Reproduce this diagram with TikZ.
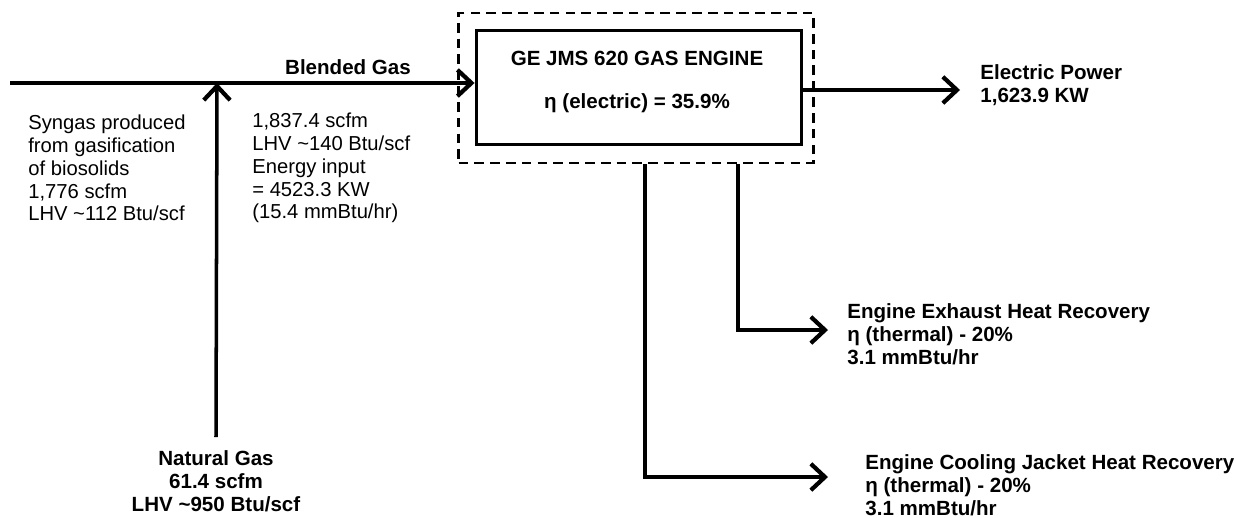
\documentclass[tikz,border=0pt]{standalone}
\usepackage{fontspec}
\setmainfont{Liberation Sans}
\usetikzlibrary{arrows.meta,positioning}
\tikzset{
  flow/.style={line width=2pt, -{Straight Barb[length=8pt,width=15pt,line width=2.4pt]}},
  info/.style={inner sep=0pt, align=left, font=\fontsize{11.5}{13}\selectfont},
  infob/.style={info, font=\fontsize{11.7}{13}\selectfont\bfseries},
}
\begin{document}
\begin{tikzpicture}[x=0.02cm, y=-0.02cm]
  \useasboundingbox (0,0) rectangle (1236,517);
  \node[draw, dash pattern=on 5.5pt off 3.5pt, line width=1.5pt, minimum width=7.1cm, minimum height=3cm] (envelope) at (636,88) {};
  \node[draw, line width=1.7pt, minimum width=6.52cm, minimum height=2.3cm] (engine) at (639,87.5) {};
  \node[infob, align=center] (engtitle) at (637,58) {GE JMS 620 GAS ENGINE};
  \node[infob, align=center] (engeff) at (637,103) {η (electric) = 35.9\%};
  \coordinate (syn) at (10,83);
  \coordinate (mix) at (217,83);
  \node[infob] (blend) at (348,67) {Blended Gas};
  \node[info, anchor=west] (syngas) at (28,168) {Syngas produced\\from gasification\\of biosolids\\1,776 scfm\\LHV \textasciitilde112 Btu/scf};
  \node[info, anchor=west] (blendinfo) at (252,168) {1,837.4 scfm\\LHV \textasciitilde140 Btu/scf\\Energy input\\= 4523.3 KW\\(15.4 mmBtu/hr)};
  \node[infob, align=center] (natgas) at (216,481) {Natural Gas\\61.4 scfm\\LHV \textasciitilde950 Btu/scf};
  \coordinate (powin) at (960,90);
  \node[infob, anchor=west] (power) at (980,85) {Electric Power\\1,623.9 KW};
  \coordinate (exhout) at ([xshift=2.04cm]envelope.south);
  \coordinate (exhin) at (828,330);
  \node[infob, anchor=west, right=0.38cm of exhin, yshift=-0.08cm] (exhaust) {Engine Exhaust Heat Recovery\\η (thermal) - 20\%\\3.1 mmBtu/hr};
  \coordinate (coolout) at ([xshift=0.18cm]envelope.south);
  \coordinate (coolin) at (828,477);
  \node[infob, anchor=west, right=0.74cm of coolin, yshift=-0.16cm] (cooling) {Engine Cooling Jacket Heat Recovery\\η (thermal) - 20\%\\3.1 mmBtu/hr};
  \draw[flow] (syn) -- (syn -| engine.west);
  \draw[flow] ([yshift=0.26cm]natgas.north) -- (mix);
  \draw[flow] (engine.east |- powin) -- (powin);
  \draw[flow] (exhout) |- (exhin);
  \draw[flow] (coolout) |- (coolin);
\end{tikzpicture}
\end{document}
